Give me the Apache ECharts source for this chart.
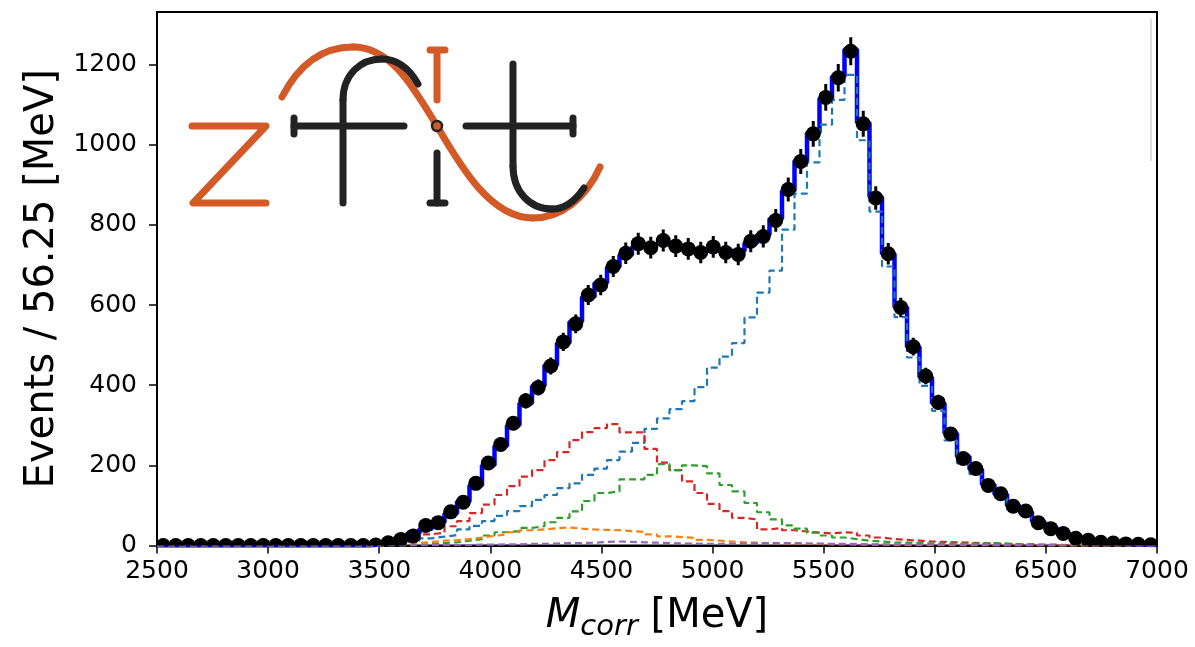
<!DOCTYPE html>
<html>
<head>
<meta charset="utf-8">
<script src="https://cdn.jsdelivr.net/npm/echarts@6.0.0/dist/echarts.min.js"></script>
<style>
  html, body { margin: 0; padding: 0; background: #fff; }
  #main { width: 1195px; height: 647px; }
</style>
</head>
<body>
<div id="main"></div>
<script>
  // 80 bins of 56.25 MeV between 2500 and 7000
  var binLow = 2500, binWidth = 56.25, nBins = 80
  var xTicks = [2500, 3000, 3500, 4000, 4500, 5000, 5500, 6000, 6500, 7000]
  var yTicks = [0, 200, 400, 600, 800, 1000, 1200]

  // data counts per bin
  var dataCounts = [
    0, 0, 0, 0, 0, 0, 0, 0, 0, 0,
    0, 0, 0, 0, 0, 0, 0, 1, 7, 15,
    24, 50, 57, 84, 108, 155, 206, 252, 305, 361,
    394, 448, 508, 553, 625, 650, 696, 729, 753, 743,
    761, 747, 740, 731, 745, 731, 726, 759, 771, 811,
    888, 958, 1027, 1118, 1167, 1233, 1052, 867, 728, 594,
    496, 423, 357, 278, 217, 192, 150, 129, 98, 86,
    57, 42, 30, 18, 13, 8, 6, 4, 3, 2
  ]
  // total model
  var modelTotal = [
    0, 0, 0, 0, 0, 0, 0, 0, 0, 0,
    0, 0, 0, 0, 0, 0, 0, 3, 10, 18,
    30, 42, 58, 80, 110, 150, 200, 248, 300, 355,
    398, 450, 505, 558, 620, 655, 695, 725, 745, 750,
    755, 748, 740, 735, 738, 735, 735, 755, 775, 815,
    885, 960, 1030, 1115, 1170, 1238, 1055, 870, 728, 595,
    495, 420, 355, 280, 222, 190, 152, 128, 100, 84,
    60, 44, 30, 20, 13, 8, 5, 3, 2, 1
  ]
  // components
  var compBlue = [
    0, 0, 0, 0, 0, 0, 0, 0, 0, 0,
    0, 0, 0, 0, 0, 0, 0, 1, 3, 8,
    12, 18, 22, 26, 40, 49, 61, 74, 86, 98,
    114, 126, 143, 155, 176, 192, 213, 234, 256, 291,
    317, 340, 360, 395, 444, 471, 505, 569, 631, 686,
    788, 878, 956, 1050, 1112, 1174, 1011, 833, 696, 570,
    469, 398, 336, 262, 205, 178, 140, 120, 90, 78,
    52, 38, 27, 16, 10, 6, 4, 2, 1, 1
  ]
  var compRed = [
    0, 0, 0, 0, 0, 0, 0, 0, 0, 0,
    0, 0, 0, 0, 0, 0, 0, 2, 6, 12,
    20, 28, 32, 48, 61, 81, 102, 126, 148, 172,
    188, 213, 233, 263, 283, 293, 303, 282, 282, 241,
    207, 188, 160, 131, 104, 86, 69, 65, 40, 44,
    38, 35, 32, 30, 33, 32, 25, 20, 16, 14,
    12, 10, 9, 8, 7, 6, 5, 4, 3, 3,
    2, 2, 1, 1, 0, 0, 0, 0, 0, 0
  ]
  var compGreen = [
    0, 0, 0, 0, 0, 0, 0, 0, 0, 0,
    0, 0, 0, 0, 0, 0, 0, 0, 0, 0,
    2, 4, 6, 8, 12, 16, 25, 33, 36, 44,
    48, 58, 69, 85, 111, 131, 135, 165, 165, 176,
    203, 188, 200, 198, 180, 151, 135, 106, 83, 65,
    50, 42, 32, 25, 20, 16, 12, 10, 8, 7,
    6, 5, 5, 5, 4, 5, 6, 5, 3, 2,
    1, 0, 0, 0, 0, 0, 0, 0, 0, 0
  ]
  var compOrange = [
    0, 0, 0, 0, 0, 0, 0, 0, 0, 0,
    0, 0, 0, 0, 0, 0, 0, 1, 2, 4,
    6, 9, 12, 13, 16, 20, 24, 28, 33, 38,
    40, 43, 45, 42, 40, 39, 38, 36, 34, 28,
    23, 21, 19, 14, 12, 10, 8, 7, 6, 5,
    5, 4, 4, 3, 3, 2, 2, 2, 1, 1,
    1, 1, 1, 0, 0, 0, 0, 0, 0, 0,
    0, 0, 0, 0, 0, 0, 0, 0, 0, 0
  ]
  var compPurple = [
    0, 0, 0, 0, 0, 0, 0, 0, 0, 0,
    0, 0, 0, 0, 0, 0, 0, 0, 0, 0,
    0, 1, 1, 1, 1, 2, 2, 3, 3, 4,
    4, 5, 6, 6, 7, 9, 10, 9, 8, 7,
    6, 5, 5, 4, 4, 5, 5, 6, 6, 6,
    6, 5, 5, 4, 4, 4, 3, 3, 3, 3,
    2, 2, 2, 2, 2, 2, 1, 1, 1, 1,
    1, 0, 0, 0, 0, 0, 0, 0, 0, 0
  ]

  // step histogram points: left edges plus the closing right edge
  function stepData(vals) {
    var out = []
    for (var i = 0; i < nBins; i++) out.push([binLow + binWidth * i, vals[i]])
    out.push([binLow + binWidth * nBins, vals[nBins - 1]])
    return out
  }
  function pointData(vals) {
    var out = []
    for (var i = 0; i < nBins; i++) {
      out.push([binLow + binWidth * (i + 0.5), vals[i], Math.sqrt(vals[i])])
    }
    return out
  }
  function dashed(name, color, vals) {
    return {
      name: name, type: 'line', step: 'end', symbol: 'none', clip: true, z: 3,
      lineStyle: { color: color, width: 2.2, type: [7, 4] },
      data: stepData(vals)
    }
  }

  var ink = '#222222'
  var rust = '#d35a27'
  // logo strokes
  function seg(x1, y1, x2, y2, color) {
    return { type: 'line', z: 11, shape: { x1: x1, y1: y1, x2: x2, y2: y2 },
      style: { stroke: color, lineWidth: 7, lineCap: 'round' } }
  }
  function curve(p, color) {
    return { type: 'bezierCurve', z: 11,
      shape: { x1: p[0], y1: p[1], cpx1: p[2], cpy1: p[3], cpx2: p[4], cpy2: p[5], x2: p[6], y2: p[7] },
      style: { stroke: color, lineWidth: 7, lineCap: 'round', fill: null } }
  }

  var chart = echarts.init(document.getElementById('main'))
  var option = {
    animation: false,
    grid: {
      left: 157, right: 38, top: 12, bottom: 94,
      show: true, borderColor: '#000', borderWidth: 2, backgroundColor: '#fff'
    },
    xAxis: {
      type: 'value',
      min: xTicks[0], max: xTicks[xTicks.length - 1], interval: 500,
      name: '{it|M}{sub|corr}{rm| [MeV]}',
      nameLocation: 'middle', nameGap: 46,
      nameTextStyle: {
        rich: {
          it: { fontFamily: 'DejaVu Sans', fontStyle: 'italic', fontSize: 40, color: '#000', lineHeight: 50 },
          sub: { fontFamily: 'DejaVu Sans', fontStyle: 'italic', fontSize: 29, color: '#000', lineHeight: 30, padding: [22, 0, 0, 0] },
          rm: { fontFamily: 'DejaVu Sans', fontSize: 40, color: '#000', lineHeight: 50 }
        }
      },
      axisLine: { show: true, onZero: false, lineStyle: { color: '#000', width: 2 } },
      axisTick: { show: true, length: 8, lineStyle: { color: '#000', width: 1.5 } },
      axisLabel: { margin: 13, fontFamily: 'DejaVu Sans', fontSize: 25, color: '#000',
        formatter: function (v) { return String(v) } },
      splitLine: { show: false }
    },
    yAxis: {
      type: 'value',
      min: yTicks[0], max: 1331, interval: 200,
      name: 'Events / 56.25 [MeV]',
      nameLocation: 'middle', nameGap: 92, nameRotate: 90,
      nameTextStyle: { fontFamily: 'DejaVu Sans', fontSize: 40, color: '#000' },
      axisLine: { show: true, lineStyle: { color: '#000', width: 2 } },
      axisTick: { show: true, length: 8, lineStyle: { color: '#000', width: 1.5 } },
      axisLabel: { margin: 20, fontFamily: 'DejaVu Sans', fontSize: 25, color: '#000', showMaxLabel: false,
        formatter: function (v) { return String(v) } },
      splitLine: { show: false }
    },
    series: [
      {
        name: 'model', type: 'line', step: 'end', symbol: 'none', clip: true, z: 2,
        lineStyle: { color: '#0000ff', width: 4.5 },
        data: stepData(modelTotal)
      },
      dashed('comp0', '#1f77b4', compBlue),
      dashed('comp1', '#d62728', compRed),
      dashed('comp2', '#2ca02c', compGreen),
      dashed('comp3', '#ff7f0e', compOrange),
      dashed('comp4', '#9467bd', compPurple),
      {
        name: 'data', type: 'custom', clip: true, z: 5,
        data: pointData(dataCounts),
        renderItem: function (params, api) {
          var c = api.coord([api.value(0), api.value(1)])
          var hi = api.coord([api.value(0), api.value(1) + api.value(2)])
          var lo = api.coord([api.value(0), api.value(1) - api.value(2)])
          return {
            type: 'group',
            children: [
              { type: 'line', shape: { x1: c[0], y1: hi[1], x2: c[0], y2: lo[1] }, style: { stroke: '#000', lineWidth: 3 } },
              { type: 'circle', shape: { cx: c[0], cy: c[1], r: 7.5 }, style: { fill: '#000' } }
            ]
          }
        }
      }
    ],
    // zfit logo
    graphic: [
      { type: 'line', z: 10, shape: { x1: 1151, y1: 19, x2: 1151, y2: 161 }, style: { stroke: '#dddddd', lineWidth: 2 } },
      { type: 'polyline', z: 10, shape: { points: [[192, 126], [266, 126], [193, 203], [266, 203]] },
        style: { stroke: rust, lineWidth: 7, lineCap: 'round', lineJoin: 'round', fill: null } },
      curve([282, 97, 300, 62, 325, 47, 353, 47], rust),
      curve([353, 47, 392, 47, 415, 90, 437, 126], rust),
      curve([437, 126, 460, 165, 490, 218, 533, 218], rust),
      curve([533, 218, 560, 218, 585, 200, 600, 167], rust),
      seg(343, 203, 343, 100, ink),
      curve([343, 100, 343, 75, 360, 59, 382, 59], ink),
      curve([382, 59, 398, 59, 410, 70, 418, 84], ink),
      seg(294, 126, 404, 126, ink),
      seg(294, 118, 294, 134, ink),
      seg(437, 51, 437, 100, rust),
      seg(430, 50, 445, 50, rust),
      seg(437, 153, 437, 203, ink),
      seg(430, 203, 445, 203, ink),
      seg(513, 64, 513, 166, ink),
      curve([513, 166, 513, 192, 530, 209, 552, 209], ink),
      curve([552, 209, 565, 209, 576, 200, 584, 188], ink),
      seg(466, 126, 573, 126, ink),
      seg(573, 118, 573, 134, ink),
      { type: 'circle', z: 12, shape: { cx: 437, cy: 126, r: 5 }, style: { fill: rust, stroke: ink, lineWidth: 2.5 } }
    ]
  }
  chart.setOption(option)
</script>
</body>
</html>
